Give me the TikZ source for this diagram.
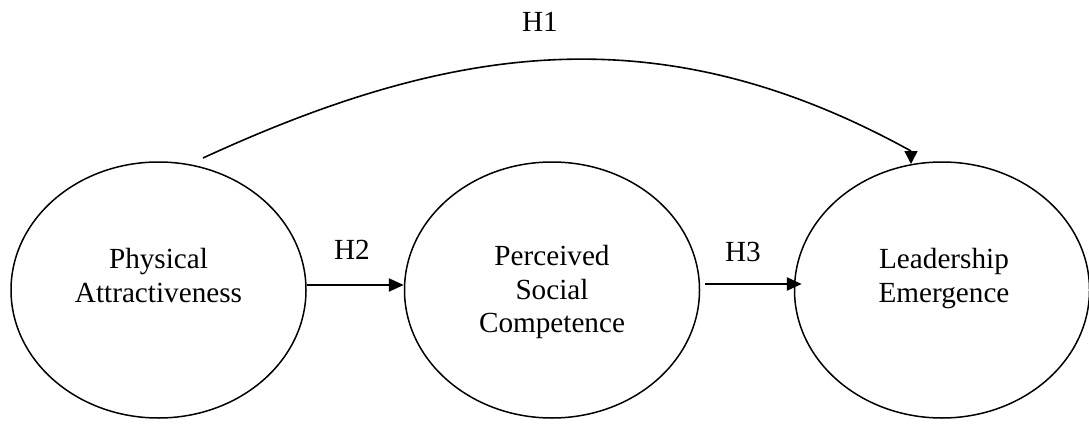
\documentclass[tikz,border=0pt]{standalone}
\usepackage{fontspec}
\setmainfont{Liberation Serif}
\usetikzlibrary{arrows.meta,shapes.geometric}
\begin{document}
\begin{tikzpicture}[x=1pt,y=-1pt,
  construct/.style={draw=black,line width=1.5pt,ellipse,inner sep=0pt,minimum width=295pt,minimum height=256pt},
  ctext/.style={align=center,inner sep=0pt,anchor=north,font=\fontsize{29.2}{33.6}\selectfont},
  hlabel/.style={inner sep=0pt,font=\fontsize{29.2}{33.6}\selectfont},
  arr/.style={line width=2.4pt,-{Triangle[length=15pt,width=13pt]}},
  curv/.style={line width=1.6pt}]
\useasboundingbox (0,0) rectangle (1089,425);
% constructs
\node[construct] (pa) at (158.5,290) {};
\node[construct] (ps) at (552,290) {};
\node[construct] (le) at (942,290) {};
\node[ctext] (pat) at (158.5,248) {Physical\\Attractiveness};
\node[ctext] (pst) at (552,245) {Perceived\\Social\\Competence};
\node[ctext] (let) at (944,248) {Leadership\\Emergence};
% H2, H3
\draw[arr] ([yshift=5pt]pa.east) -- ([yshift=5pt]ps.west);
\draw[arr] ([xshift=5pt,yshift=6pt]ps.east) -- ([xshift=8pt,yshift=6pt]le.west);
\node[hlabel] (h2) at (352,250) {H2};
\node[hlabel] (h3) at (743,252) {H3};
% H1
\coordinate (h1start) at (203,158);
\coordinate (h1end) at (911,151);
\coordinate (h1tip) at (911,164);
\draw[curv] (h1start) .. controls (453,43) and (661,13) .. (h1end);
\draw[line width=1.6pt,-{Triangle[length=13pt,width=13pt]}] (h1end) -- (h1tip);
\node[hlabel] (h1) at (540,22) {H1};
\end{tikzpicture}
\end{document}
